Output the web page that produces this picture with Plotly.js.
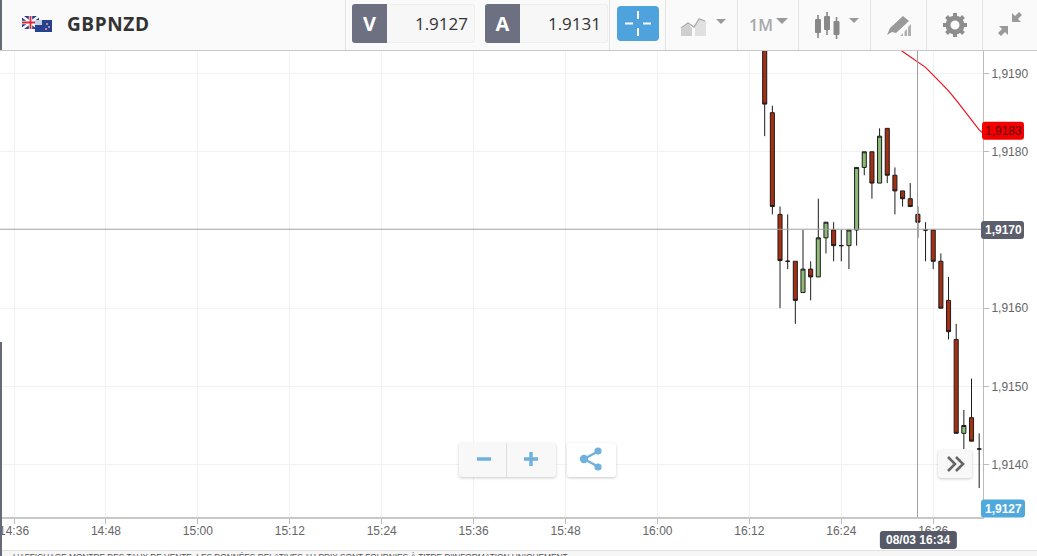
<!DOCTYPE html>
<html>
<head>
<meta charset="utf-8">
<script src="https://cdn.plot.ly/plotly-3.0.1.min.js"></script>
<style>
  html, body { margin: 0; padding: 0; background: #fff; overflow: hidden; }
  #page { position: relative; width: 1037px; height: 556px; overflow: hidden; font-family: "Open Sans", sans-serif; }
  #chart { position: absolute; left: 0; top: 0; width: 1037px; height: 556px; }
  #toolbar { position: absolute; left: 0; top: 0; width: 1037px; height: 50px; background: #fafafa; border-bottom: 1px solid #c8c8c8; }
  .sep { position: absolute; top: 0; width: 1px; height: 50px; background: #e4e4e4; }
  .side { position: absolute; top: 4px; width: 35px; height: 39px; line-height: 39px; background: #6c7080; color: #fff; font-weight: 700; font-size: 20px; text-align: center; border-radius: 3px 0 0 3px; }
  .price { position: absolute; top: 4px; height: 37px; line-height: 38px; background: #f7f7f7; border: 1px solid #efefef; border-left: 0; color: #333; font-size: 17px; text-align: right; padding-right: 6px; box-sizing: content-box; border-radius: 0 3px 3px 0; }
  .abs { position: absolute; }
  .btn { position: absolute; background: #f8f8f8; border-radius: 3px; box-shadow: 0 1px 3px rgba(0,0,0,.22); }
  #note { position: absolute; left: 13px; top: 552px; font-size: 8.3px; line-height: 11px; color: #555; white-space: nowrap; font-family: "Liberation Sans", sans-serif; }
  #strip { position: absolute; left: 0; top: 550px; width: 1037px; height: 6px; background: #f6f6f6; border-top: 1px solid #e2e2e2; box-sizing: border-box; }
  .edge { position: absolute; left: 0; width: 2px; background: #666a75; }
</style>
</head>
<body>
<div id="page">
  <div id="strip"></div>
  <div id="chart"></div>
  <div id="note">L'AFFICHAGE MONTRE DES TAUX DE VENTE. LES DONNÉES RELATIVES AU PRIX SONT FOURNIES À TITRE D'INFORMATION UNIQUEMENT</div>

  <div id="toolbar">
    <svg class="abs" style="left:21px;top:15px" width="32" height="19" viewBox="0 0 32 19">
      <rect x="1" y="1" width="17" height="13" fill="#2b3f8f"/>
      <path d="M1 1L18 14M18 1L1 14" stroke="#fff" stroke-width="2.4"/>
      <path d="M9.5 1V14M1 7.5H18" stroke="#fff" stroke-width="3.4"/>
      <path d="M9.5 1V14M1 7.5H18" stroke="#d6283c" stroke-width="1.8"/>
      <rect x="14" y="5" width="17" height="12" fill="#27418f"/>
      <rect x="14" y="5" width="7" height="5" fill="#c7d0e8"/>
      <circle cx="26" cy="9" r="1" fill="#e8a0a8"/><circle cx="28" cy="12" r="1" fill="#e8a0a8"/><circle cx="25" cy="14" r="1" fill="#e8a0a8"/>
    </svg>
    <div class="abs" style="left:67px;top:10px;font-size:19px;font-weight:700;color:#333;letter-spacing:.6px;line-height:28px">GBPNZD</div>

    <div class="sep" style="left:345px"></div>
    <div class="side" style="left:352px">V</div>
    <div class="price" style="left:387px;width:81px">1.9127</div>
    <div class="side" style="left:485px">A</div>
    <div class="price" style="left:520px;width:81px">1.9131</div>
    <div class="sep" style="left:609px"></div>

    <div class="abs" style="left:617px;top:6px;width:42px;height:35px;background:#4ea3dc;border-radius:4px"></div>
    <svg class="abs" style="left:617px;top:6px" width="42" height="35" viewBox="0 0 42 35">
      <path d="M21 5V13M21 22V30M8 17.5H16M26 17.5H34" stroke="#fff" stroke-width="2"/>
    </svg>

    <div class="sep" style="left:665px"></div>
    <svg class="abs" style="left:680px;top:14px" width="46" height="24" viewBox="0 0 46 24">
      <path d="M1 22V15L8 10L12 14V22Z" fill="#cfcfcf"/>
      <path d="M15 22V12L20 4L26 7V22Z" fill="#e0e0e0"/>
      <path d="M1 14L8 9L14 13L19 5L25 7" stroke="#a8a8a8" stroke-width="1.3" fill="none"/>
      <path d="M36 5H46L41 10Z" fill="#999"/>
    </svg>

    <div class="sep" style="left:737px"></div>
    <div class="abs" style="left:749px;top:13px;font-size:16px;font-weight:600;color:#a8a8a8;line-height:24px">1M</div>
    <svg class="abs" style="left:776px;top:18px" width="12" height="7" viewBox="0 0 12 7"><path d="M0 0H12L6 6Z" fill="#999"/></svg>

    <div class="sep" style="left:798px"></div>
    <svg class="abs" style="left:814px;top:11px" width="48" height="29" viewBox="0 0 48 29">
      <path d="M4 4V27M13 1V24M22.5 6V28" stroke="#888" stroke-width="1.6"/>
      <rect x="1" y="8" width="6" height="14" rx="1" fill="#888"/>
      <rect x="10" y="5" width="6" height="14" rx="1" fill="#888"/>
      <rect x="19.5" y="10" width="6" height="14" rx="1" fill="#888"/>
      <path d="M35 7H45L40 12Z" fill="#999"/>
    </svg>

    <div class="sep" style="left:870px"></div>
    <svg class="abs" style="left:886px;top:14px" width="26" height="24" viewBox="0 0 26 24">
      <path d="M1 21L4 14L17 2L23 7L10 19L6 18Z" fill="#9a9a9a"/>
      <path d="M14 22L17 19V22ZM18.5 22V17.5L21 15V22ZM22 22V13L25 10V22Z" fill="#b0b0b0"/>
    </svg>

    <div class="sep" style="left:926px"></div>
    <svg class="abs" style="left:942px;top:12px" width="26" height="26" viewBox="0 0 26 26">
      <circle cx="13" cy="13" r="7" fill="none" stroke="#8e8e8e" stroke-width="5"/>
      <path d="M13 1V5M13 21V25M1 13H5M21 13H25M4.5 4.5L7.4 7.4M18.6 18.6L21.5 21.5M4.5 21.5L7.4 18.6M18.6 7.4L21.5 4.5" stroke="#8e8e8e" stroke-width="4"/>
    </svg>

    <div class="sep" style="left:982px"></div>
    <svg class="abs" style="left:997px;top:11px" width="26" height="26" viewBox="0 0 26 26">
      <path d="M15 2V11H24L21 8L25 4L22 1L18 5Z" fill="#9a9a9a"/>
      <path d="M11 24V15H2L5 18L1 22L4 25L8 21Z" fill="#9a9a9a"/>
    </svg>
  </div>

  <div class="edge" style="top:0;height:50px"></div>
  <div class="edge" style="top:342px;height:214px"></div>

  <div class="btn" style="left:459px;top:443px;width:97px;height:34px"></div>
  <div class="abs" style="left:506px;top:443px;width:1px;height:34px;background:#ddd"></div>
  <svg class="abs" style="left:459px;top:443px" width="97" height="34" viewBox="0 0 97 34">
    <path d="M18 16H32M65 16H79M72 9V23" stroke="#6fb0dc" stroke-width="3.4"/>
  </svg>
  <div class="btn" style="left:567px;top:443px;width:49px;height:34px;background:#fff"></div>
  <svg class="abs" style="left:567px;top:443px" width="49" height="34" viewBox="0 0 49 34">
    <path d="M30 9L17 16L30 23" stroke="#6fb0dc" stroke-width="2.4" fill="none"/>
    <circle cx="31" cy="8" r="3.6" fill="#6fb0dc"/><circle cx="17" cy="16" r="4.2" fill="#6fb0dc"/><circle cx="31" cy="24" r="3.6" fill="#6fb0dc"/>
  </svg>
  <div class="btn" style="left:938px;top:450px;width:34px;height:28px"></div>
  <svg class="abs" style="left:938px;top:450px" width="34" height="28" viewBox="0 0 34 28">
    <path d="M10 7L17 14L10 21M18 7L25 14L18 21" stroke="#666" stroke-width="2.6" fill="none"/>
  </svg>
</div>

<script>
// 08/03, one candle a minute
var day = '2018-03-08 ';

var times = ['16:11', '16:14', '16:15', '16:16', '16:17', '16:18', '16:19', '16:20', '16:21', '16:22',
  '16:23', '16:24', '16:25', '16:26', '16:27', '16:28', '16:29', '16:30', '16:31', '16:32',
  '16:33', '16:34', '16:35', '16:36', '16:37', '16:38', '16:39', '16:40', '16:41', '16:42'];

var opens = [1.9197, 1.9197, 1.9185, 1.9172, 1.9166, 1.9166, 1.9162, 1.9165, 1.9164, 1.9169,
  1.9170, 1.9168, 1.9168, 1.9170, 1.9178, 1.9180, 1.9176, 1.9183, 1.9177, 1.9175,
  1.9174, 1.9172, 1.9170, 1.9170, 1.9166, 1.9161, 1.9156, 1.9144, 1.9146, 1.9142];
var highs = [1.9198, 1.9198, 1.91859, 1.9173, 1.9172, 1.9166, 1.9170, 1.9166, 1.9174, 1.9171,
  1.9171, 1.9170, 1.9170, 1.9178, 1.9180, 1.9180, 1.9183, 1.9183, 1.9178, 1.9175,
  1.9176, 1.9173, 1.9171, 1.9170, 1.9167, 1.9164, 1.9158, 1.9147, 1.9151, 1.9144];
var lows = [1.91945, 1.9182, 1.9172, 1.9160, 1.9165, 1.9158, 1.9162, 1.9161, 1.9164, 1.9167,
  1.9166, 1.9166, 1.9165, 1.9168, 1.9177, 1.9174, 1.9176, 1.9176, 1.9172, 1.9173,
  1.9173, 1.9169, 1.9166, 1.9165, 1.9160, 1.9156, 1.9144, 1.9142, 1.9143, 1.9137];
var closes = [1.9196, 1.91861, 1.9173, 1.91661, 1.9166, 1.9161, 1.9165, 1.9164, 1.9169, 1.9171,
  1.9168, 1.9168, 1.9170, 1.9178, 1.9180, 1.9176, 1.9182, 1.9177, 1.9175, 1.9174,
  1.9173, 1.9171, 1.9170, 1.9166, 1.9160, 1.9157, 1.9144, 1.9145, 1.9143, 1.9142];

var lineTimes = ['16:31', '16:32', '16:33', '16:34', '16:35', '16:36', '16:37', '16:38', '16:39', '16:40', '16:41', '16:42', '16:42:30'];
var lineValues = [1.91935, 1.91928, 1.91921, 1.91915, 1.91908, 1.91898, 1.91888, 1.91878, 1.91866, 1.91853, 1.91841, 1.91828, 1.91824];

var yTicks = [1.9140, 1.9150, 1.9160, 1.9180, 1.9190];

function at(t) {
  return day + t;
}

// price tags have round corners, annotations don't, so a pixel sized shape goes behind the text
function roundBox(x0, x1, y0, y1) {
  var r = 3;
  return 'M' + (x0 + r) + ',' + y0 + ' L' + (x1 - r) + ',' + y0 + ' Q' + x1 + ',' + y0 + ' ' + x1 + ',' + (y0 + r) +
    ' L' + x1 + ',' + (y1 - r) + ' Q' + x1 + ',' + y1 + ' ' + (x1 - r) + ',' + y1 +
    ' L' + (x0 + r) + ',' + y1 + ' Q' + x0 + ',' + y1 + ' ' + x0 + ',' + (y1 - r) +
    ' L' + x0 + ',' + (y0 + r) + ' Q' + x0 + ',' + y0 + ' ' + (x0 + r) + ',' + y0 + ' Z';
}

function tag(xref, xanchor, yref, yanchor, x0, x1, color) {
  return {
    type: 'path', xref: xref, yref: yref, xsizemode: 'pixel', ysizemode: 'pixel',
    xanchor: xanchor, yanchor: yanchor, path: roundBox(x0, x1, -9, 9),
    fillcolor: color, line: { width: 0 }, layer: 'above'
  };
}

var candles = {
  type: 'candlestick',
  x: times.map(at),
  open: opens,
  high: highs,
  low: lows,
  close: closes,
  increasing: { line: { color: '#1c1c1c', width: 1 }, fillcolor: '#8fbb78' },
  decreasing: { line: { color: '#1c1c1c', width: 1 }, fillcolor: '#a52f12' },
  hoverinfo: 'skip',
  showlegend: false
};

var redLine = {
  type: 'scatter',
  mode: 'lines',
  x: lineTimes.map(at),
  y: lineValues,
  line: { color: '#e8141c', width: 1.2 },
  hoverinfo: 'skip',
  showlegend: false
};

var tagFont = { family: 'Liberation Sans', size: 12, color: '#fff' };

var layout = {
  width: 1037,
  height: 556,
  margin: { t: 51, l: 0, r: 54, b: 39 },
  paper_bgcolor: 'rgba(0,0,0,0)',
  plot_bgcolor: '#fff',
  separators: ',.',
  boxgap: 0.24,
  showlegend: false,
  font: { family: 'Liberation Sans', size: 12, color: '#666' },
  xaxis: {
    type: 'date',
    range: [at('14:34:10'), at('16:42:30')],
    tick0: at('14:36'),
    dtick: 720000,
    tickformat: '%H:%M',
    ticks: 'outside',
    ticklen: 5,
    tickcolor: '#bbb',
    ticklabelstandoff: -3,
    ticklabeloverflow: 'allow',
    showgrid: true,
    gridcolor: '#f2f2f2',
    showline: true,
    linecolor: '#c8c8c8',
    linewidth: 2,
    rangeslider: { visible: false },
    fixedrange: true
  },
  yaxis: {
    side: 'right',
    range: [1.91333, 1.919289],
    tickmode: 'array',
    tickvals: yTicks,
    tickformat: '.4f',
    ticks: 'outside',
    ticklen: 5,
    tickcolor: '#bbb',
    showgrid: true,
    gridcolor: '#f2f2f2',
    zeroline: false,
    showline: true,
    linecolor: '#bbb',
    linewidth: 1,
    fixedrange: true
  },
  shapes: [
    { type: 'line', xref: 'paper', x0: 0, x1: 1, yref: 'y', y0: 1.91701, y1: 1.91701, line: { color: '#a0a0a0', width: 1 } },
    { type: 'line', xref: 'x', x0: at('16:33:57'), x1: at('16:33:57'), yref: 'paper', y0: 0, y1: 1, line: { color: '#a0a0a0', width: 1 } },
    tag('paper', 1, 'y', 1.91827, -1, 41, '#f40000'),
    tag('paper', 1, 'y', 1.9170, -2, 41, '#5b5e6b'),
    tag('paper', 1, 'paper', 0.0182, -2, 42, '#4fa9dc'),
    tag('x', at('16:34'), 'paper', -0.0494, -38, 39, '#565a67')
  ],
  annotations: [
    { xref: 'paper', x: 1, xanchor: 'center', xshift: 20, yref: 'y', y: 1.91827, yanchor: 'middle', text: '1,9183', showarrow: false, font: { family: 'Liberation Sans', size: 12, color: '#5a0000' } },
    { xref: 'paper', x: 1, xanchor: 'center', xshift: 20, yref: 'y', y: 1.9170, yanchor: 'middle', text: '<b>1,9170</b>', showarrow: false, font: tagFont },
    { xref: 'paper', x: 1, xanchor: 'center', xshift: 20, yref: 'paper', y: 0.0182, yanchor: 'middle', text: '<b>1,9127</b>', showarrow: false, font: tagFont },
    { xref: 'x', x: at('16:34'), xanchor: 'center', yref: 'paper', y: -0.0494, yanchor: 'middle', text: '<b>08/03 16:34</b>', showarrow: false, font: tagFont }
  ]
};

var config = {
  displayModeBar: false,
  staticPlot: true
};

Plotly.newPlot('chart', [candles, redLine], layout, config);
</script>
</body>
</html>
